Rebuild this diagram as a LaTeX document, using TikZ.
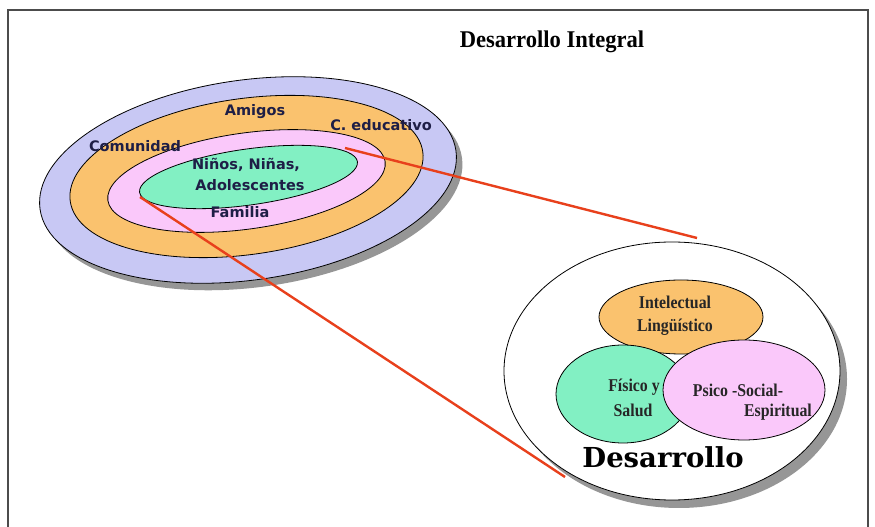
\documentclass[tikz,border=0pt]{standalone}
\usepackage{fontspec}
\usepackage{graphicx}
\setmainfont{Liberation Serif}
\newfontfamily\verd{DejaVu Sans}
\newfontfamily\dserif{DejaVu Serif}
\definecolor{lav}{RGB}{200,200,244}
\definecolor{orn}{RGB}{250,194,110}
\definecolor{pnk}{RGB}{250,200,250}
\definecolor{grn}{RGB}{130,240,195}
\definecolor{navy}{RGB}{30,30,70}
\definecolor{redl}{RGB}{232,64,28}
\definecolor{shd}{RGB}{150,150,150}
\newcommand\condtxt[1]{\scalebox{0.88}[1]{#1}}
\tikzset{
  ring/.style={draw=black, line width=0.8pt},
  lbl/.style={font=\verd\bfseries\fontsize{14.5}{16}\selectfont, text=navy, inner sep=0pt},
  slbl/.style={font=\bfseries\fontsize{18}{20}\selectfont, text=black!85, inner sep=0pt},
  redline/.style={draw=redl, line width=2.4pt},
}
\begin{document}
\begin{tikzpicture}[x=1pt,y=1pt]
\useasboundingbox (0,0) rectangle (875,527);
\fill[white] (0,0) rectangle (875,527);
\draw[gray!60!black, line width=1.2pt] (8,-5) -- (8,517) -- (868,517) -- (868,-5);

\node[font=\bfseries\fontsize{24}{26}\selectfont, inner sep=0pt] (title) at (552,485) {\scalebox{0.94}[1]{Desarrollo Integral}};

% left concentric ellipses
\fill[shd, rotate around={8:(254,340)}] (254,340) ellipse [x radius=210, y radius=100];
\draw[ring, fill=lav, rotate around={8:(248,347)}] (248,347) ellipse [x radius=210, y radius=100];
\draw[ring, fill=orn, rotate around={8:(246.5,350.5)}] (246.5,350.5) ellipse [x radius=178, y radius=78];
\draw[ring, fill=pnk, rotate around={8:(246.5,346)}] (246.5,346) ellipse [x radius=140, y radius=48];
\draw[ring, fill=grn, rotate around={8:(248.5,350)}] (248.5,350) ellipse [x radius=110, y radius=28];

\node[lbl] (amigos) at (255,415) {Amigos};
\node[lbl] (ceduc) at (381,402) {C. educativo};
\node[lbl] (comun) at (135,381) {Comunidad};
\node[lbl] (ninos) at (246,362) {Niños, Niñas,};
\node[lbl] (adol) at (250,342) {Adolescentes};
\node[lbl] (fam) at (240,315) {Familia};

% right big ellipse
\fill[shd] (679,148) ellipse [x radius=168, y radius=129];
\draw[ring, fill=white] (672,156) ellipse [x radius=168, y radius=129];
\draw[ring, fill=orn] (681,210) ellipse [x radius=82, y radius=37];
\draw[ring, fill=grn] (623,133) ellipse [x radius=67, y radius=49];
\draw[ring, fill=pnk] (744,137) ellipse [x radius=81, y radius=50];

\node[slbl] (intel) at (675,225) {\condtxt{Intelectual}};
\node[slbl] (ling) at (675,200) {\condtxt{Lingüístico}};
\node[slbl] (fisico) at (634,140) {\condtxt{Físico y}};
\node[slbl] (salud) at (633,117) {\condtxt{Salud}};
\node[slbl] (psico) at (738,137) {\condtxt{Psico -Social-}};
\node[slbl] (espir) at (778,115) {\condtxt{Espiritual}};
\node[font=\dserif\bfseries\fontsize{27.5}{30}\selectfont, inner sep=0pt] (desa) at (663,70) {Desarrollo};

% connectors
\coordinate (a1) at (345,379);
\coordinate (b1) at (697,289);
\coordinate (a2) at (140,330);
\coordinate (b2) at (565,50);
\draw[redline] (a1) -- (b1);
\draw[redline] (a2) -- (b2);
\end{tikzpicture}
\end{document}
